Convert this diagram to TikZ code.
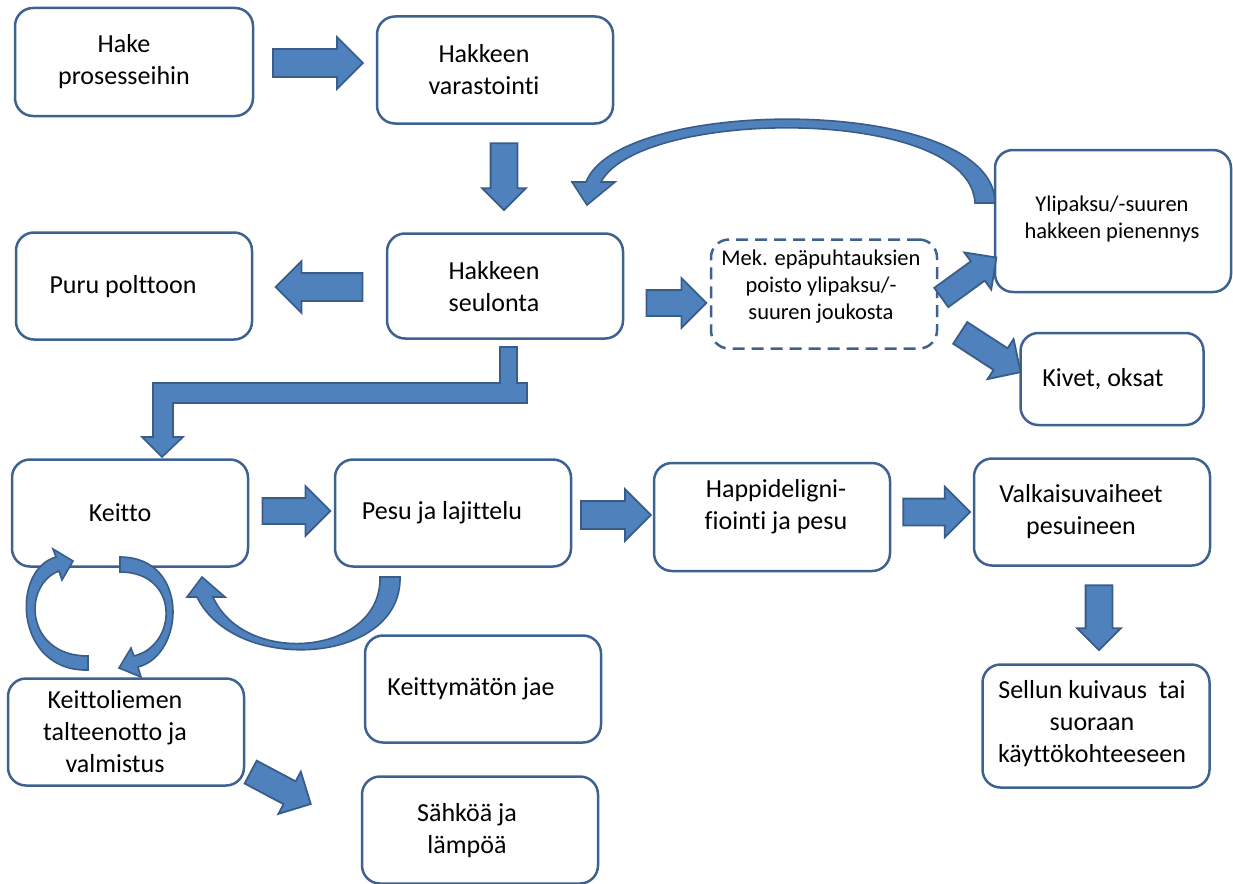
\documentclass[tikz,border=0pt]{standalone}
\usepackage{fontspec}
\setmainfont{Carlito}[Ligatures=NoCommon]
\usetikzlibrary{shapes.arrows}
\definecolor{arrowfill}{RGB}{79,129,189}
\definecolor{arrowline}{RGB}{56,93,138}
\definecolor{boxline}{RGB}{62,98,144}
\begin{document}
\begin{tikzpicture}[x=1pt,y=-1pt,
                    box/.style={draw=boxline,line width=2.5pt,rounded corners=18pt,minimum width=236pt,minimum height=107pt},
                    dashbox/.style={box,dash pattern=on 12pt off 7pt},
                    boxtext/.style={align=center,inner sep=0pt,font=\fontsize{26}{32}\selectfont},
                    smalltext/.style={align=center,inner sep=0pt,font=\fontsize{22.5}{27}\selectfont},
                    blockarrow/.style={single arrow,draw=arrowline,fill=arrowfill,line width=1.8pt,inner xsep=0pt,inner ysep=13pt,
                                       single arrow head extend=12pt},
                    curvearrow/.style={draw=arrowline,fill=arrowfill,line width=1.6pt,line join=miter}
                   ]
   \useasboundingbox (0,0) rectangle (1233,883);
   % boxes
   \node[box,minimum width=238pt,minimum height=108pt] (hake) at (134,62) {};
   \node[box] (varast) at (495,70) {};
   \node[box,minimum height=142pt] (ylip) at (1113,221) {};
   \node[box] (puru) at (134,286) {};
   \node[box,minimum height=105pt] (seul) at (505,286) {};
   \node[dashbox,minimum width=226pt,minimum height=109pt] (mek) at (824,294) {};
   \node[box,minimum width=183pt,minimum height=92pt] (kivet) at (1112,379) {};
   \node[box] (keitto) at (130,513) {};
   \node[box] (pesu) at (453,513) {};
   \node[box,minimum height=108pt] (happi) at (772,517) {};
   \node[box] (valk) at (1092,512) {};
   \node[box] (liemi) at (126,732) {};
   \node[box] (keittym) at (483,689) {};
   \node[box] (sahko) at (480,830) {};
   \node[box,minimum width=227pt,minimum height=123pt] (sellu) at (1096,726) {};
   % texts
   \node[boxtext] (hake-t) at (124,62) {Hake\\prosesseihin};
   \node[boxtext] (varast-t) at (484,70) {Hakkeen\\varastointi};
   \node[smalltext] (ylip-t) at (1112,219) {Ylipaksu/-suuren\\hakkeen pienennys};
   \node[boxtext] (puru-t) at (123,287) {Puru polttoon};
   \node[boxtext] (seul-t) at (494,287) {Hakkeen\\seulonta};
   \node[smalltext] (mek-t) at (821,287) {Mek. epäpuhtauksien\\poisto ylipaksu/-\\suuren joukosta};
   \node[boxtext] (kivet-t) at (1103,379) {Kivet, oksat};
   \node[boxtext] (keitto-t) at (120,513) {Keitto};
   \node[boxtext] (pesu-t) at (442,513) {Pesu ja lajittelu};
   \node[boxtext] (happi-t) at (776,507) {Happideligni-\\fiointi ja pesu};
   \node[boxtext] (valk-t) at (1081,512) {Valkaisuvaiheet\\pesuineen};
   \node[boxtext] (liemi-t) at (115,732) {Keittoliemen\\talteenotto ja\\valmistus};
   \node[boxtext] (keittym-t) at (471,689) {Keittymätön jae};
   \node[boxtext] (sahko-t) at (467,831) {Sähköä ja\\lämpöä};
   \node[boxtext] (sellu-t) at (1092,724) {Sellun kuivaus\ \ tai\\suoraan\\käyttökohteeseen};
   % straight block arrows
   \node[blockarrow,minimum height=90pt] (ar-hake) at (311,63) {};
   \node[blockarrow,minimum height=67pt,inner ysep=12.5pt,single arrow head extend=8.5pt,rotate=-90] (ar-varast) at (504,170) {};
   \node[blockarrow,minimum height=87pt,rotate=180] (ar-puru) at (326,287) {};
   \node[blockarrow,minimum height=60pt,inner ysep=12pt] (ar-mek) at (670,303) {};
   \node[blockarrow,minimum height=68pt,inner ysep=11pt,single arrow head extend=11pt,rotate=36] (ar-ylip) at (964,281) {};
   \node[blockarrow,minimum height=72pt,inner ysep=12pt,single arrow head extend=11pt,rotate=-33] (ar-kivet) at (985,349) {};
   \node[blockarrow,minimum height=68pt,inner ysep=12pt] (ar-pesu) at (290,511) {};
   \node[blockarrow,minimum height=70pt] (ar-happi) at (609,515) {};
   \node[blockarrow,minimum height=67pt,inner ysep=12.5pt] (ar-valk) at (930,512) {};
   \node[blockarrow,minimum height=65pt,inner ysep=12.5pt,single arrow head extend=8.5pt,rotate=-90] (ar-sellu) at (1099,611) {};
   \node[blockarrow,minimum height=68pt,inner ysep=12pt,single arrow head extend=11pt,rotate=-28] (ar-sahko) at (275,785) {};
   % bent arrow seulonta -> keitto
   \filldraw[curvearrow] (500,347) -- (517,347) -- (517,383) -- (527,383) -- (527,403) -- (173,403) -- (173,437)
      -- (183,437) -- (162,457) -- (142,437) -- (153,437) -- (153,383) -- (500,383) -- cycle;
   % curved arrows
   \filldraw[curvearrow] (995,203) .. controls (995,95) and (620,95) .. (586,182) -- (572,182) -- (587,205)
      -- (615,182) -- (601,182) .. controls (640,108) and (970,105) .. (975,203) -- cycle;
   \filldraw[curvearrow] (400,577) .. controls (402,665) and (235,675) .. (197,597) -- (187,597) -- (202,577)
      -- (225,597) -- (213,597) .. controls (245,668) and (382,655) .. (380,577) -- cycle;
   \filldraw[curvearrow] (88,670) .. controls (15,672) and (10,570) .. (56,557) -- (53,549) -- (73,561)
      -- (62,580) -- (59,571) .. controls (22,585) and (25,656) .. (88,656) -- cycle;
   \filldraw[curvearrow] (120,557) .. controls (190,557) and (185,655) .. (138,667) -- (141,677) -- (119,668)
      -- (131,648) -- (134,656) .. controls (178,645) and (180,572) .. (120,572) -- cycle;
\end{tikzpicture}
\end{document}
